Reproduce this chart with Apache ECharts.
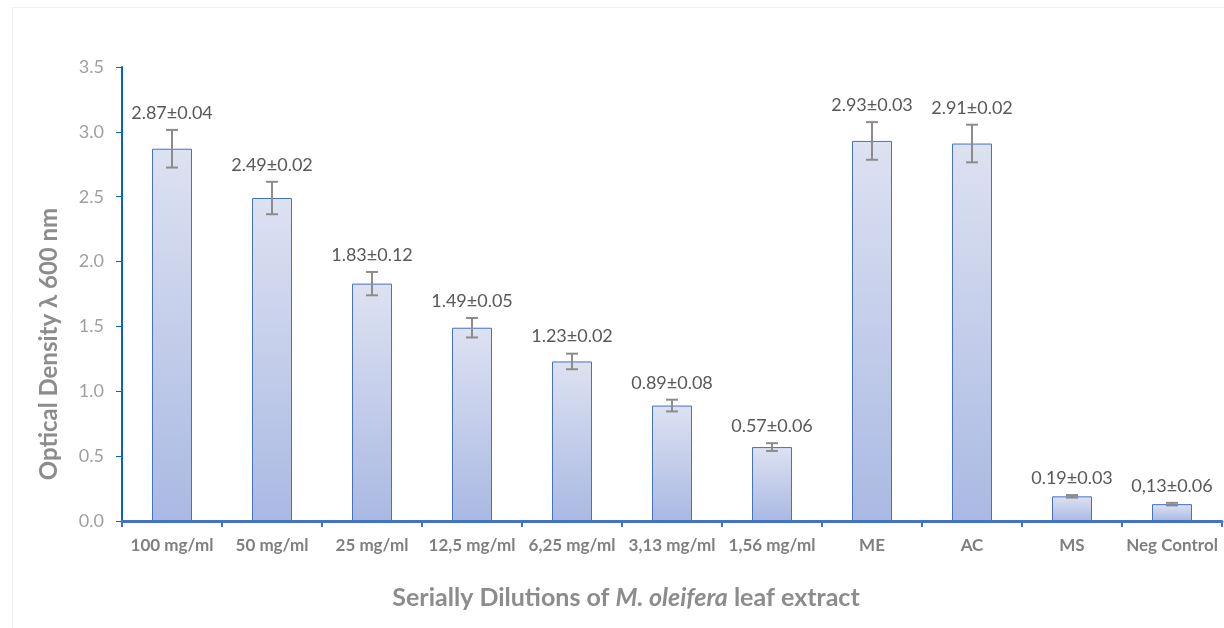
<!DOCTYPE html>
<html><head><meta charset="utf-8">
<script src="https://cdn.jsdelivr.net/npm/echarts@6/dist/echarts.min.js"></script>
<style>html,body{margin:0;padding:0;background:#fff}#c{width:1224px;height:628px}</style>
</head><body><div id="c"></div>
<script>
var categories = ['100 mg/ml','50 mg/ml','25 mg/ml','12,5 mg/ml','6,25 mg/ml','3,13 mg/ml','1,56 mg/ml','ME','AC','MS','Neg Control'];
var values = [2.87, 2.49, 1.83, 1.49, 1.23, 0.89, 0.57, 2.93, 2.91, 0.19, 0.13];
var errorBars = [0.145, 0.125, 0.09, 0.075, 0.06, 0.045, 0.03, 0.145, 0.145, 0.01, 0.01];
var valueLabels = ['2.87±0.04','2.49±0.02','1.83±0.12','1.49±0.05','1.23±0.02','0.89±0.08','0.57±0.06','2.93±0.03','2.91±0.02','0.19±0.03','0,13±0.06'];
var yTicks = {min: 0, max: 3.5, interval: 0.5};

var FONT = 'Lato';
var chart = echarts.init(document.getElementById('c'), null, {renderer: 'canvas'});
var errData = values.map(function (v, i) { return [i, v, errorBars[i], valueLabels[i]]; });

chart.setOption({
  animation: false,
  backgroundColor: '#ffffff',
  graphic: [{
    type: 'rect', shape: {x: 12.5, y: 7.5, width: 1230, height: 640},
    style: {fill: 'none', stroke: '#f0f0f0', lineWidth: 1}, silent: true
  }],
  grid: {left: 122, right: 2, top: 67, bottom: 107, containLabel: false},
  xAxis: {
    type: 'category', data: categories,
    axisLine: {lineStyle: {color: '#4472c4', width: 3}},
    axisTick: {show: true, alignWithLabel: false, length: 6, lineStyle: {color: '#4472c4', width: 2}},
    axisLabel: {color: '#7f7f7f', fontFamily: FONT, fontWeight: 'bold', fontSize: 17, margin: 16, interval: 0},
    name: '{a|Serially Dilutions of }{b|M. oleifera}{a| leaf extract}',
    nameLocation: 'middle', nameGap: 64,
    nameTextStyle: {
      padding: [0, 92, 0, 0],
      rich: {
        a: {color: '#8c8c8c', fontFamily: FONT, fontWeight: 'bold', fontSize: 25},
        b: {color: '#8c8c8c', fontFamily: FONT, fontWeight: 'bold', fontStyle: 'italic', fontSize: 25}
      }
    }
  },
  yAxis: {
    type: 'value', min: yTicks.min, max: yTicks.max, interval: yTicks.interval,
    axisLine: {show: true, lineStyle: {color: '#0563c1', width: 2}},
    axisTick: {show: true, length: 6, lineStyle: {color: '#0563c1', width: 1}},
    splitLine: {show: false},
    axisLabel: {color: '#a0a0a0', fontFamily: FONT, fontSize: 18, margin: 18,
      formatter: function (v) { return v.toFixed(1); }},
    name: 'Optical Density λ 600 nm', nameLocation: 'middle', nameGap: 61,
    nameTextStyle: {color: '#8c8c8c', fontFamily: FONT, fontWeight: 'bold', fontSize: 24, padding: [0, 100, 0, 0]}
  },
  series: [{
    type: 'bar', data: values, barWidth: 40,
    itemStyle: {
      borderColor: '#4472c4', borderWidth: 1,
      color: new echarts.graphic.LinearGradient(0, 0, 0, 1, [
        {offset: 0, color: '#dde2f1'}, {offset: 1, color: '#aab9e3'}
      ])
    }
  }, {
    type: 'custom', data: errData, z: 10,
    renderItem: function (params, api) {
      var i = api.value(0), v = api.value(1), e = api.value(2);
      var top = api.coord([i, v + e]);
      var bot = api.coord([i, v - e]);
      var x = top[0], hw = 6;
      var st = {stroke: '#8c8c8c', lineWidth: 2};
      return {type: 'group', children: [
        {type: 'line', shape: {x1: x, y1: top[1], x2: x, y2: bot[1]}, style: st},
        {type: 'line', shape: {x1: x - hw, y1: top[1], x2: x + hw, y2: top[1]}, style: st},
        {type: 'line', shape: {x1: x - hw, y1: bot[1], x2: x + hw, y2: bot[1]}, style: st},
        {type: 'text', style: {text: valueLabels[i], x: x, y: top[1] - 8,
          align: 'center', verticalAlign: 'bottom', fill: '#595959', font: '18px ' + FONT}}
      ]};
    }
  }]
});
</script></body></html>
